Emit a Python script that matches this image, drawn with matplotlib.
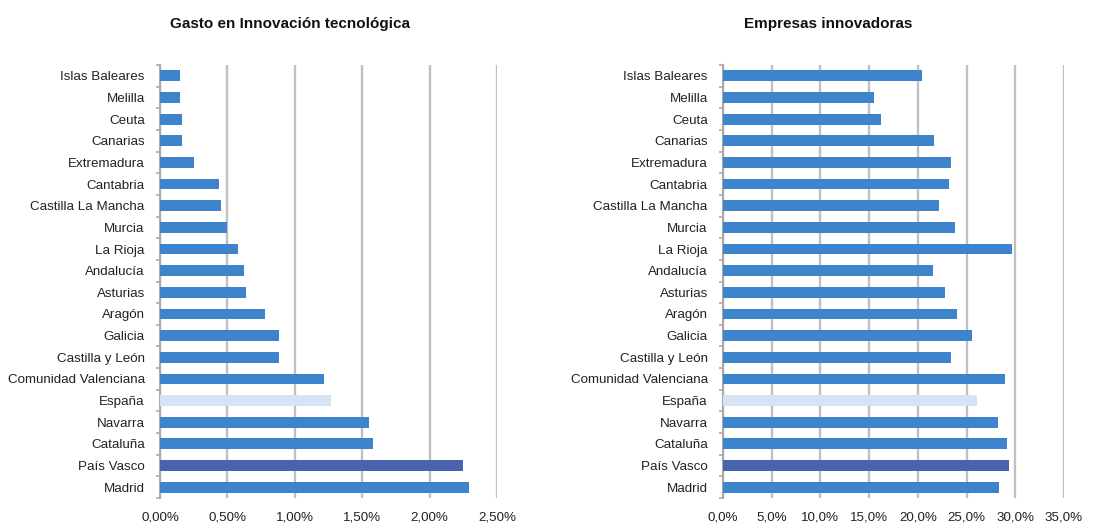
import matplotlib
matplotlib.use("Agg")
import matplotlib.pyplot as plt
import numpy as np
from matplotlib.ticker import FuncFormatter

plt.rcParams['font.family'] = ['Liberation Sans', 'DejaVu Sans']

regions = ["Islas Baleares", "Melilla", "Ceuta", "Canarias", "Extremadura",
           "Cantabria", "Castilla La Mancha", "Murcia", "La Rioja", "Andalucía",
           "Asturias", "Aragón", "Galicia", "Castilla y León", "Comunidad Valenciana",
           "España", "Navarra", "Cataluña", "País Vasco", "Madrid"]

gasto = [0.15, 0.145, 0.16, 0.16, 0.25, 0.44, 0.45, 0.50, 0.58, 0.62,
         0.64, 0.78, 0.88, 0.88, 1.22, 1.27, 1.55, 1.58, 2.25, 2.29]

empresas = [20.4, 15.5, 16.2, 21.7, 23.4, 23.2, 22.2, 23.8, 29.7, 21.6,
            22.8, 24.0, 25.6, 23.4, 28.9, 26.1, 28.2, 29.1, 29.4, 28.3]

x1_ticks = [0, 0.5, 1.0, 1.5, 2.0, 2.5]
x2_ticks = [0, 5, 10, 15, 20, 25, 30, 35]

base = "#3D84CC"
colors = []
for r in regions:
    if r == "España":
        colors.append("#D4E4F4")
    elif r == "País Vasco":
        colors.append("#4864AC")
    else:
        colors.append(base)

fig = plt.figure(figsize=(11.04, 5.23), dpi=100)
ax1 = fig.add_axes([160/1104, 1-498/523, 337/1104, 433/523])
ax2 = fig.add_axes([723/1104, 1-498/523, 341/1104, 433/523])

def draw(ax, vals, ticks, fmt, title, tx):
    y = np.arange(len(regions))[::-1]
    ax.barh(y, vals, height=0.5, color=colors, zorder=3)
    ax.set_ylim(-0.5, len(regions) - 0.5)
    ax.set_xlim(ticks[0], ticks[-1])
    ax.set_xticks(ticks)
    ax.xaxis.set_major_formatter(FuncFormatter(fmt))
    ax.set_yticks(y)
    ax.set_yticklabels(regions)
    ax.set_yticks(np.arange(-0.5, len(regions), 1.0), minor=True)
    ax.tick_params(axis='y', which='major', length=0, pad=11, labelsize=9.6, labelcolor="#222222")
    ax.tick_params(axis='y', which='minor', length=3, width=1.2, color="#AAAAAA")
    ax.tick_params(axis='x', which='major', length=0, pad=10, labelsize=9.6, labelcolor="#222222")
    ax.grid(axis='x', color="#C0C0C0", linewidth=1.7, zorder=0)
    for s in ["top", "right", "bottom"]:
        ax.spines[s].set_visible(False)
    ax.spines["left"].set_color("#AAAAAA")
    ax.spines["left"].set_linewidth(1.5)
    fig.text(tx, 1-24/523, title, ha="center", va="center", fontsize=11, fontweight="bold", color="#111111")

draw(ax1, gasto, x1_ticks, lambda v, p: f"{v:.2f}%".replace(".", ","), "Gasto en Innovación tecnológica", 290/1104)
draw(ax2, empresas, x2_ticks, lambda v, p: f"{v:.1f}%".replace(".", ","), "Empresas innovadoras", 828/1104)

fig.savefig("out.png", dpi=100, facecolor="white")
